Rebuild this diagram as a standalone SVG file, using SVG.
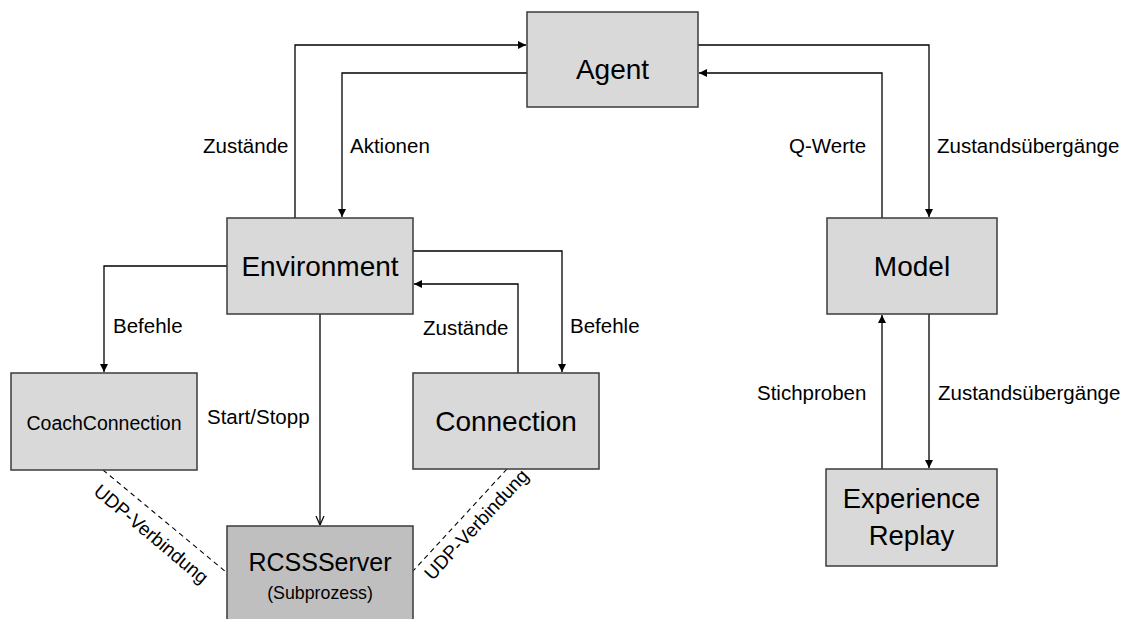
<svg xmlns="http://www.w3.org/2000/svg" width="1131" height="619" viewBox="0 0 1131 619">
<style>
.box{fill:#d9d9d9;stroke:#3b3b3b;stroke-width:1.5}
.dark{fill:#bfbfbf}
.t{font-family:"Liberation Sans",Arial,sans-serif;fill:#000;text-anchor:middle}
.big{font-size:28px}
.lbl{font-family:"Liberation Sans",Arial,sans-serif;font-size:20.5px;fill:#000}
.rot{font-size:19px;text-anchor:middle}
.c{fill:none;stroke:#000;stroke-width:1.3}
.dash{fill:none;stroke:#000;stroke-width:1.1;stroke-dasharray:5,4}
</style>
<defs>
<marker id="ah" viewBox="0 0 10 10" refX="10" refY="5" markerWidth="8" markerHeight="8" markerUnits="userSpaceOnUse" orient="auto">
<path d="M0,0 L10,5 L0,10 z" fill="#000"/>
</marker>
<marker id="open" viewBox="0 0 10 10" refX="10" refY="5" markerWidth="10" markerHeight="10" markerUnits="userSpaceOnUse" orient="auto">
<path d="M1,1 L10,5 L1,9" fill="none" stroke="#000" stroke-width="1.2"/>
</marker>
</defs>
<rect width="1131" height="619" fill="#fff"/>
<g id="connectors">
<path class="c" d="M295,218 V45 H526" marker-end="url(#ah)"/>
<path class="c" d="M527,73 H342 V217" marker-end="url(#ah)"/>
<path class="c" d="M698,45 H929 V217" marker-end="url(#ah)"/>
<path class="c" d="M882,218 V73 H699" marker-end="url(#ah)"/>
<path class="c" d="M227,266 H104 V372" marker-end="url(#ah)"/>
<path class="c" d="M413,251 H562 V372" marker-end="url(#ah)"/>
<path class="c" d="M518,373 V284 H414" marker-end="url(#ah)"/>
<path class="c" d="M320,314 V525" marker-end="url(#open)"/>
<path class="c" d="M929,314 V468" marker-end="url(#ah)"/>
<path class="c" d="M882,469 V315" marker-end="url(#ah)"/>
<path class="dash" d="M103,470 L226,572"/>
<path class="dash" d="M507,469 L413,571"/>
<text class="lbl" x="203" y="153">Zustände</text>
<text class="lbl" x="350" y="153">Aktionen</text>
<text class="lbl" x="789" y="153">Q-Werte</text>
<text class="lbl" x="937" y="153">Zustandsübergänge</text>
<text class="lbl" x="113" y="333">Befehle</text>
<text class="lbl" x="423" y="335">Zustände</text>
<text class="lbl" x="570" y="333">Befehle</text>
<text class="lbl" x="207" y="424">Start/Stopp</text>
<text class="lbl" x="757" y="400">Stichproben</text>
<text class="lbl" x="938" y="400">Zustandsübergänge</text>
<text class="lbl rot" transform="translate(147,539) rotate(40)">UDP-Verbindung</text>
<text class="lbl rot" transform="translate(481,529) rotate(-47)">UDP-Verbindung</text>
</g>
<g id="agent">
<rect class="box" x="527" y="12" width="171" height="95"/>
<text class="t big" x="612.5" y="79">Agent</text>
</g>
<g id="environment">
<rect class="box" x="227" y="218" width="186" height="96"/>
<text class="t big" x="320" y="276">Environment</text>
</g>
<g id="model">
<rect class="box" x="827" y="218" width="170" height="96"/>
<text class="t big" x="912" y="276">Model</text>
</g>
<g id="coachconnection">
<rect class="box" x="11" y="373" width="186" height="97"/>
<text class="t" style="font-size:19.5px" x="104" y="430">CoachConnection</text>
</g>
<g id="connection">
<rect class="box" x="413" y="373" width="186" height="96"/>
<text class="t big" x="506" y="431">Connection</text>
</g>
<g id="rcssserver">
<rect class="box dark" x="227" y="526" width="186" height="110"/>
<text class="t" style="font-size:25px" x="320" y="571">RCSSServer</text>
<text class="t" style="font-size:17.8px" x="320" y="599">(Subprozess)</text>
</g>
<g id="experience">
<rect class="box" x="826" y="469" width="171" height="97"/>
<text class="t" style="font-size:27.5px" x="911.5" y="508">Experience</text>
<text class="t" style="font-size:27.5px" x="911.5" y="545">Replay</text>
</g>
</svg>
